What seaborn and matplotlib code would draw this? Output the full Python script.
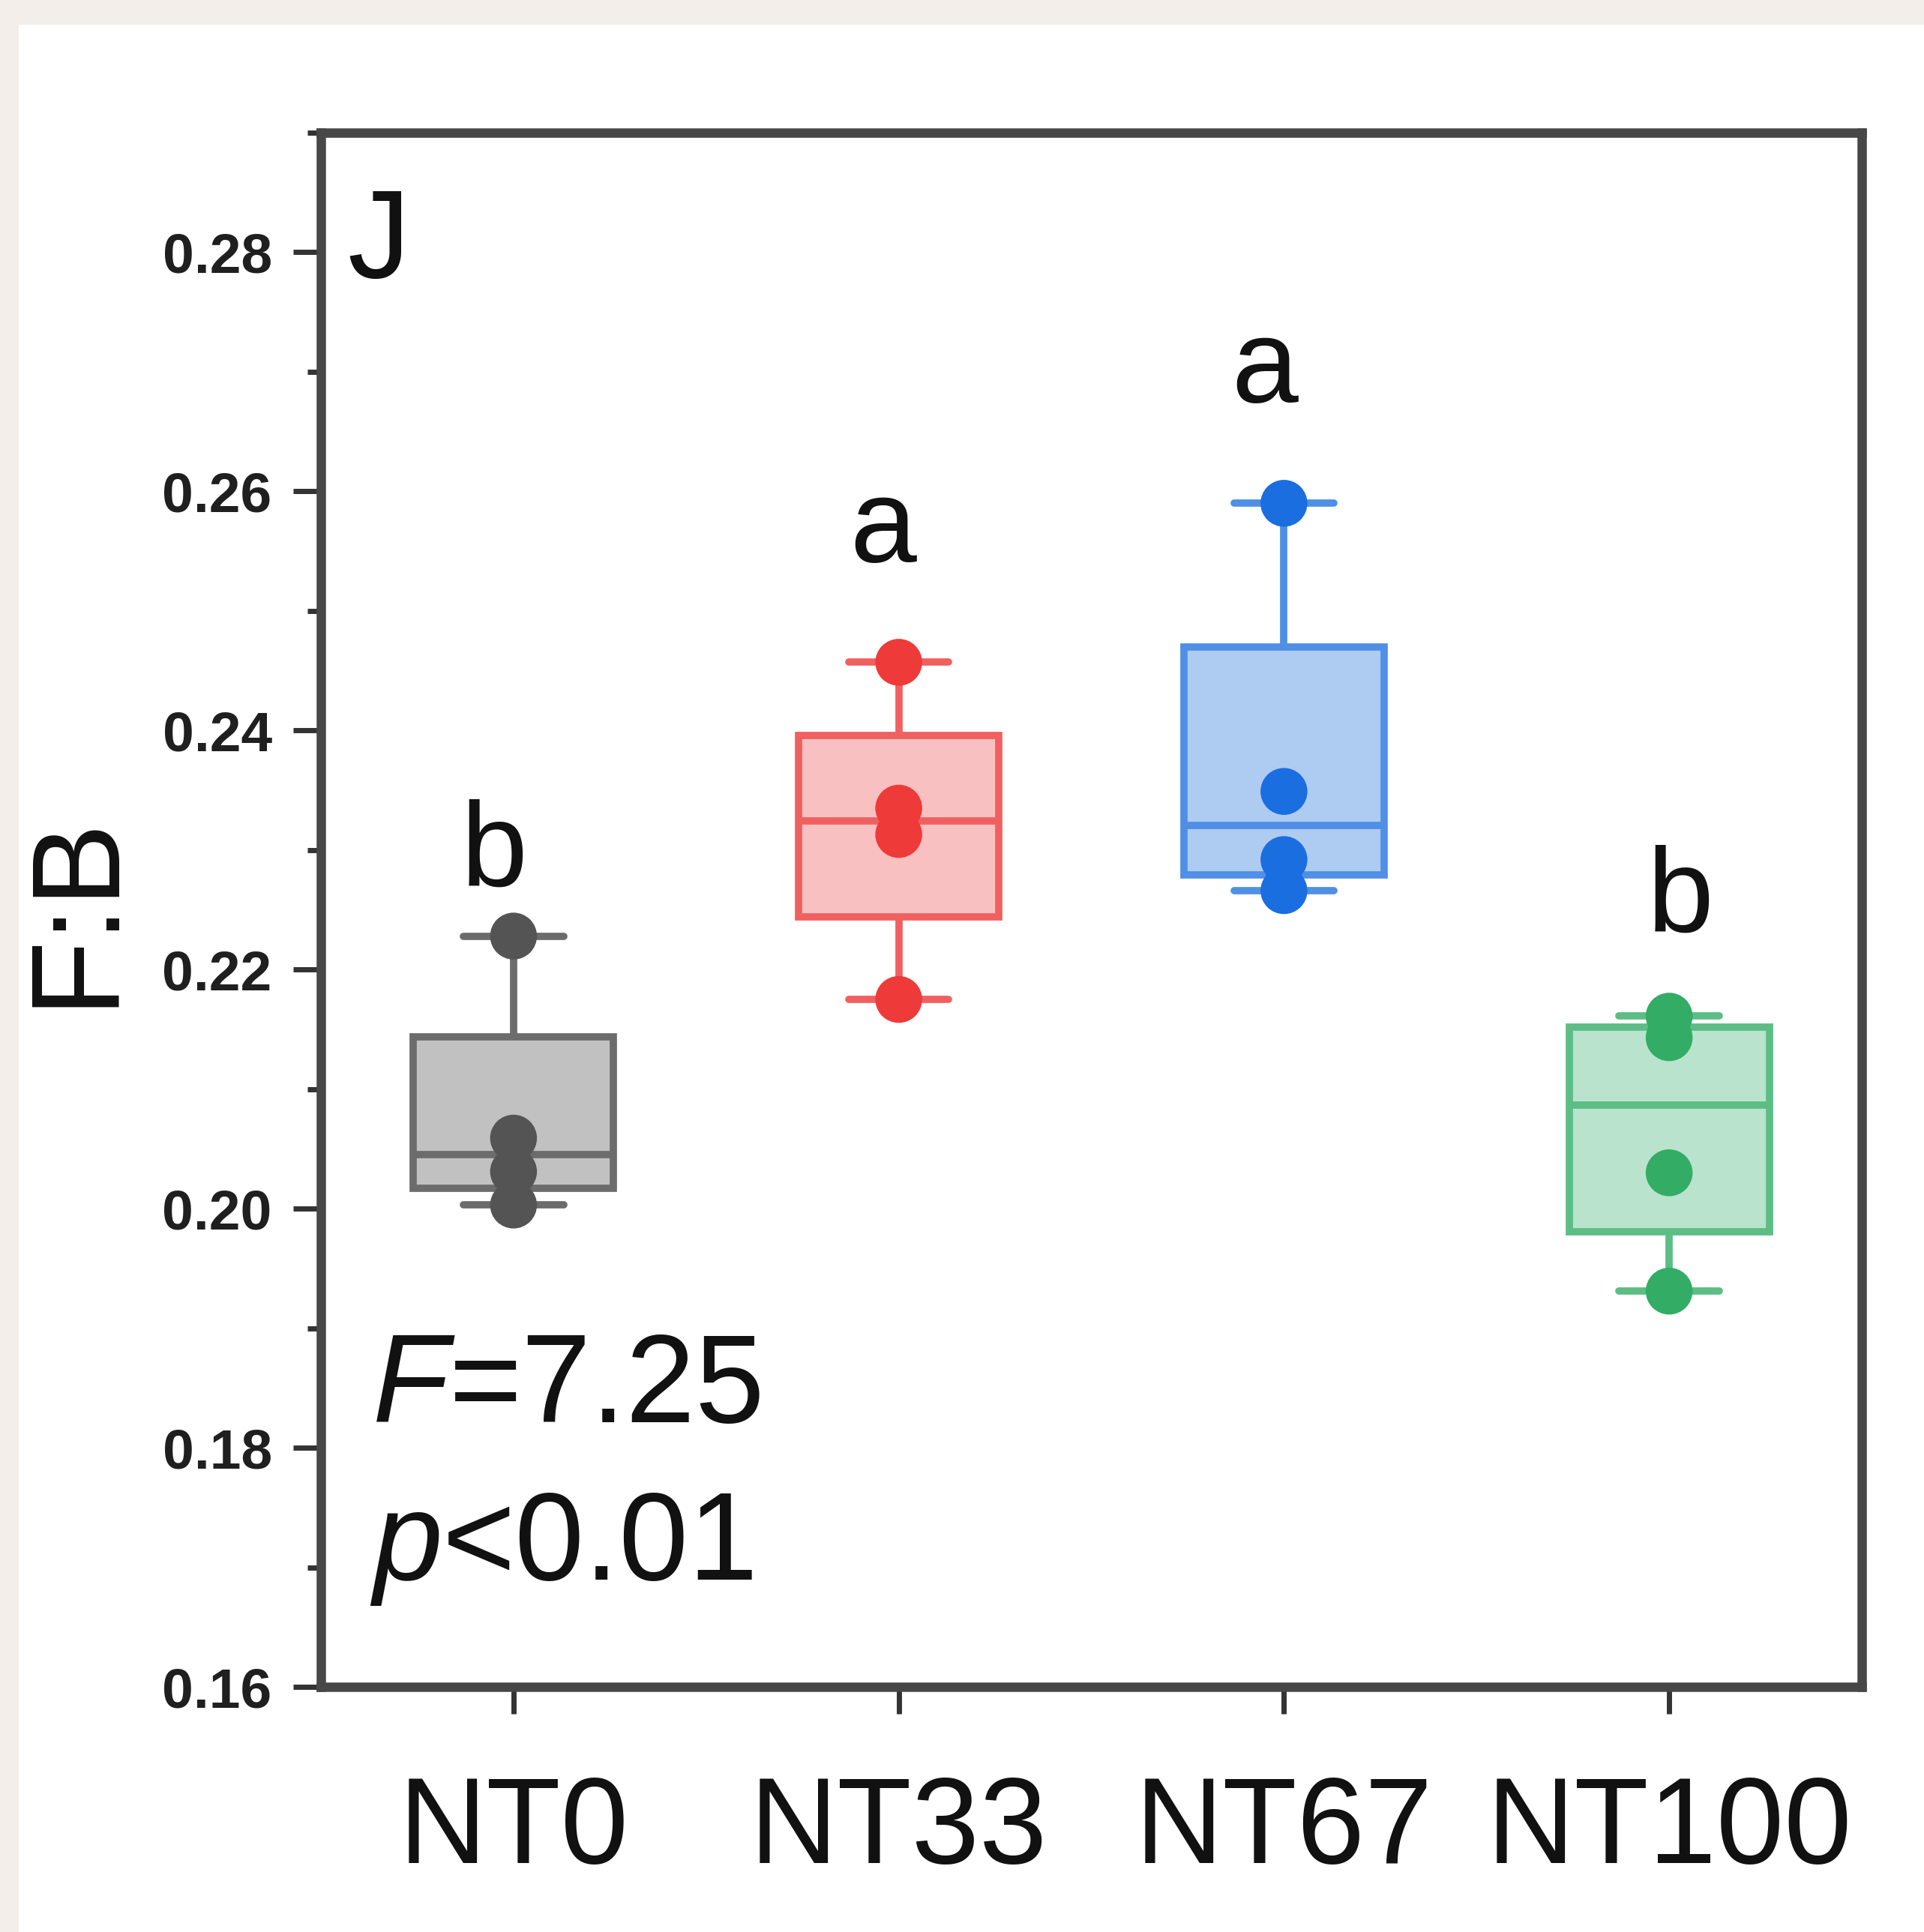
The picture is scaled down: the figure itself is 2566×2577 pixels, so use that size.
import numpy as np
import pandas as pd
import matplotlib
matplotlib.use("Agg")
import matplotlib.pyplot as plt
import seaborn as sns
from matplotlib.patches import Rectangle
from matplotlib.ticker import MultipleLocator, FormatStrFormatter

# ---------------- data ----------------
groups = ["NT0", "NT33", "NT67", "NT100"]
nt0 = [0.2228, 0.2059, 0.2031, 0.2003]
nt33 = [0.2457, 0.2335, 0.2313, 0.2175]
nt67 = [0.2590, 0.2349, 0.2292, 0.2266]
nt100 = [0.2161, 0.2143, 0.2030, 0.1931]
letters = ["b", "a", "a", "b"]
stat_lines = ["F", "=7.25", "p", "<0.01"]
y_ticks = [0.16, 0.18, 0.20, 0.22, 0.24, 0.26, 0.28]

# ---------------- style / layout ----------------
point_colors = ["#545454", "#ef3a3a", "#1a6ee0", "#33ac66"]
edge_colors = ["#6c6c6c", "#f06060", "#4f8fe6", "#5cbd85"]
fill_colors = ["#c1c1c1", "#f8c0c0", "#aecbf1", "#b9e3cc"]
letter_y = [0.2270, 0.2541, 0.2675, 0.2232]
letter_dx = [-0.05, -0.04, -0.05, 0.03]

sns.set_style("ticks")
plt.rcParams["font.family"] = ["Liberation Sans", "DejaVu Sans"]

W, H = 2566, 2577
fig = plt.figure(figsize=(W / 100, H / 100), dpi=100)
fig.patch.set_facecolor("#f3eee9")
fig.add_artist(Rectangle((25 / W, 0), 1, 1 - 33 / H, transform=fig.transFigure,
                         facecolor="white", edgecolor="none", zorder=-10))

ax = fig.add_axes([428 / W, 1 - 2250 / H, (2483 - 428) / W, (2250 - 177) / H])
ax.set_facecolor("white")

values = [nt0, nt33, nt67, nt100]
df = pd.DataFrame({
    "group": np.repeat(groups, [len(v) for v in values]),
    "value": np.concatenate(values),
})

# box statistics (quartiles as midpoints, whiskers to min/max)
stats = []
for vals in values:
    q1, med, q3 = np.percentile(vals, [25, 50, 75], method="midpoint")
    stats.append(dict(med=med, q1=q1, q3=q3, whislo=min(vals), whishi=max(vals), fliers=[]))

lw = 7
bp = ax.bxp(stats, positions=range(len(groups)), widths=0.52, capwidths=0.26,
            patch_artist=True, showfliers=False, manage_ticks=False)
for i in range(len(groups)):
    bp["boxes"][i].set(facecolor=fill_colors[i], edgecolor=edge_colors[i], linewidth=lw,
                       joinstyle="miter", zorder=2)
    bp["medians"][i].set(color=edge_colors[i], linewidth=lw, zorder=2.5)
    for k in (2 * i, 2 * i + 1):
        bp["whiskers"][k].set(color=edge_colors[i], linewidth=lw, zorder=1.5)
        bp["caps"][k].set(color=edge_colors[i], linewidth=lw, zorder=1.5)

sns.stripplot(data=df, x="group", y="value", hue="group", order=groups,
              palette=dict(zip(groups, point_colors)), jitter=False, size=45,
              linewidth=0, legend=False, ax=ax, zorder=4)

ax.set_xlim(-0.5, 3.5)
ax.set_ylim(0.16, 0.29)
ax.set_yticks(y_ticks)
ax.yaxis.set_major_formatter(FormatStrFormatter("%.2f"))
ax.yaxis.set_minor_locator(MultipleLocator(0.01))
ax.set_xticks(range(len(groups)))
ax.set_xticklabels(groups)

for s in ax.spines.values():
    s.set_visible(True)
    s.set_linewidth(9)
    s.set_color("#474747")

ax.tick_params(axis="y", which="major", direction="out", length=27, width=5,
               color="#333333", labelsize=54, pad=20, labelcolor="#1f1f1f")
ax.tick_params(axis="y", which="minor", direction="out", length=13, width=5, color="#333333")
ax.tick_params(axis="x", which="major", direction="out", length=26, width=5,
               color="#333333", labelsize=117, pad=58, labelcolor="#111111")
ax.tick_params(axis="x", which="minor", bottom=False)
for lab in ax.get_yticklabels():
    lab.set_fontweight("bold")

ax.set_xlabel("")
ax.set_ylabel("F:B", fontsize=120, labelpad=25, color="#111111")

# significance letters
for i, (lt, ly, dx) in enumerate(zip(letters, letter_y, letter_dx)):
    ax.text(i + dx, ly, lt, ha="center", va="baseline", fontsize=115, color="#111111")

# panel tag
ax.text(0.017, 0.907, "J", transform=ax.transAxes, ha="left", va="baseline",
        fontsize=120, color="#111111")

# statistics text (italic symbol + regular remainder)
t1 = ax.text(0.0336, 0.1703, stat_lines[0], transform=ax.transAxes, ha="left",
             va="baseline", fontsize=120, style="italic", color="#111111")
ax.annotate(stat_lines[1], xy=(1, 0), xycoords=t1, ha="left", va="bottom",
            fontsize=120, color="#111111")
t2 = ax.text(0.0336, 0.069, stat_lines[2], transform=ax.transAxes, ha="left",
             va="baseline", fontsize=120, style="italic", color="#111111")
ax.annotate(stat_lines[3], xy=(1, 0), xycoords=t2, ha="left", va="bottom",
            fontsize=120, color="#111111")

fig.savefig("out.png", dpi=100, facecolor=fig.get_facecolor())
